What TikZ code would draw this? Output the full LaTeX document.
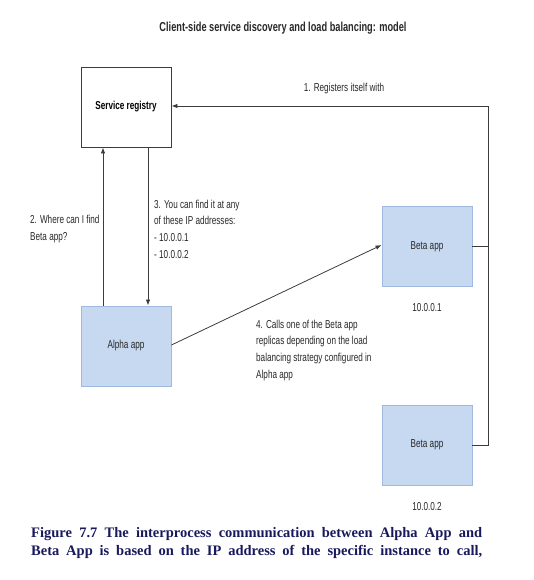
\documentclass[tikz,border=0pt]{standalone}
\usepackage{fontspec}
\setmainfont{Liberation Sans}
\newfontfamily\narrowfont[FakeStretch=0.71]{Liberation Sans}
\newfontfamily\capfont{Liberation Serif}
\usetikzlibrary{arrows.meta}
\definecolor{boxfill}{RGB}{198,217,240}
\definecolor{boxline}{RGB}{160,185,222}
\definecolor{linecol}{RGB}{60,60,60}
\definecolor{captioncol}{RGB}{24,24,92}
\definecolor{txtcol}{RGB}{40,40,40}
\tikzset{
  appbox/.style={draw=boxline, fill=boxfill, line width=0.9pt, minimum width=90pt, minimum height=80pt, inner sep=0pt, font=\narrowfont\fontsize{11.5}{13}\selectfont, text=txtcol},
  regbox/.style={draw=linecol, fill=white, line width=0.9pt, minimum width=90pt, minimum height=80pt, inner sep=0pt, font=\narrowfont\bfseries\fontsize{11.5}{13}\selectfont},
  conn/.style={draw=linecol, line width=0.8pt},
  arr/.style={conn, -{Latex[length=6pt,width=4.5pt]}},
  lbl/.style={font=\narrowfont\fontsize{11.5}{16.8}\selectfont, text=txtcol, inner sep=0pt, align=left},
}
\begin{document}
\begin{tikzpicture}[x=1pt,y=-1pt]
\useasboundingbox (0,0) rectangle (534,580);
\node[font=\narrowfont\bfseries\fontsize{13}{15}\selectfont, text=txtcol] (title) at (283,28) {Client-side service discovery and load balancing: model};
\node[regbox] (reg) at (126,107) {Service registry};
\node[appbox] (alpha) at (126,346) {Alpha app};
\node[appbox] (beta1) at (427,246.5) {Beta app};
\node[appbox] (beta2) at (427,445) {Beta app};
\node[lbl, anchor=base] (ip1) at (427,311) {10.0.0.1};
\node[lbl, anchor=base] (ip2) at (427,510) {10.0.0.2};
\coordinate (c1) at (488,106);
\coordinate (c2) at (488,445);
\draw[conn] (beta1.east) -- (beta1.east -| c1);
\draw[conn] (beta2.east) -- (c2) -- (c1);
\draw[arr] (c1) -- (reg.east |- c1);
\node[lbl, anchor=base] (l1) at (344,92) {1. Registers itself with};
\draw[arr] (alpha.north -| 103,0) -- (reg.south -| 103,0);
\draw[arr] (reg.south -| 148,0) -- (alpha.north -| 148,0);
\node[lbl, anchor=base west] (l2) at (30,240) {2. Where can I find\\Beta app?};
\node[lbl, anchor=base west] (l3) at (154,258.4) {3. You can find it at any\\of these IP addresses:\\- 10.0.0.1\\- 10.0.0.2};
\draw[arr] (alpha.east |- 0,345) -- (beta1.west |- 0,245);
\node[lbl, anchor=base west] (l4) at (256,378.4) {4. Calls one of the Beta app\\replicas depending on the load\\balancing strategy configured in\\Alpha app};
\node[anchor=north west, inner sep=0pt, text width=451pt, align=justify, font=\capfont\bfseries\fontsize{14.5}{18.5}\selectfont, text=captioncol] (cap) at (31,527) {Figure 7.7 The interprocess communication between Alpha App and\linebreak Beta App is based on the IP address of the specific instance to call,\parfillskip=0pt\par};
\end{tikzpicture}
\end{document}
